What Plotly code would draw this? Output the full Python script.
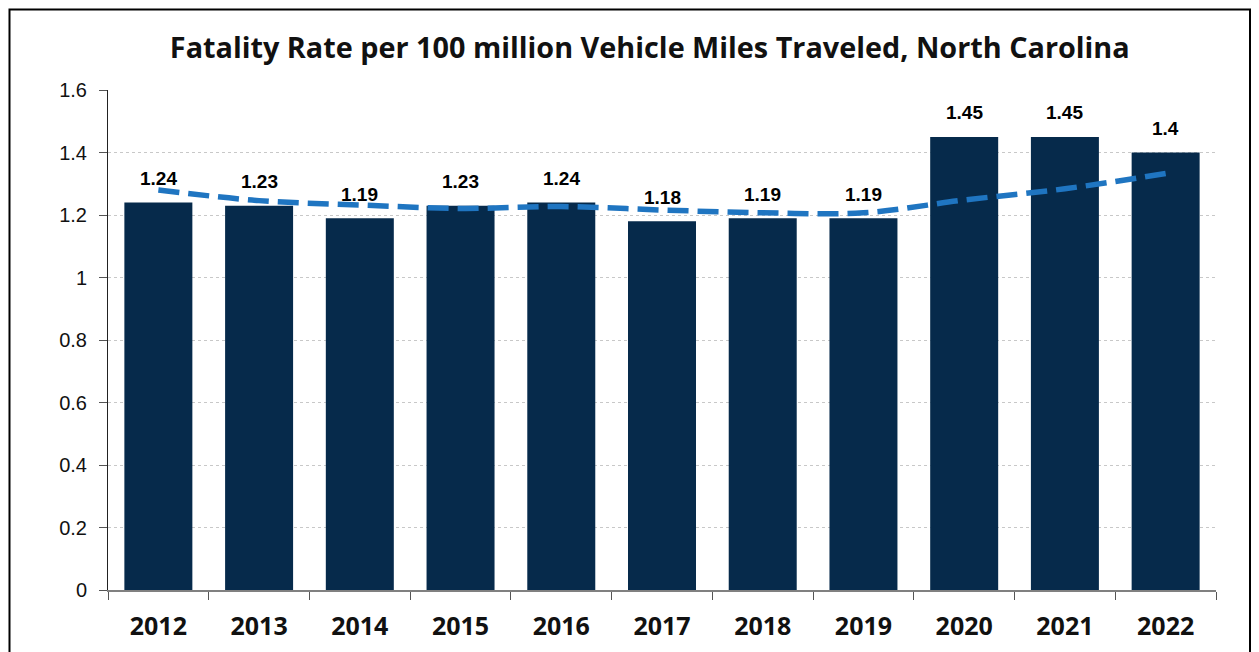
import plotly.graph_objects as go

years = ["2012", "2013", "2014", "2015", "2016", "2017", "2018", "2019", "2020", "2021", "2022"]
rates = [1.24, 1.23, 1.19, 1.23, 1.24, 1.18, 1.19, 1.19, 1.45, 1.45, 1.4]
# trend line
trend = [1.28, 1.246, 1.232, 1.221, 1.227, 1.216, 1.207, 1.207, 1.248, 1.284, 1.333]
y_ticks = [0, 0.2, 0.4, 0.6, 0.8, 1, 1.2, 1.4, 1.6]

fig = go.Figure()

fig.add_trace(go.Bar(x=years, y=rates,
                     marker=dict(color="#062A4B", line=dict(width=0)),
                     name="Rate"))

fig.add_trace(go.Scatter(x=years, y=trend, mode="lines",
                         line=dict(color="#1F75C1", width=5.5, dash="21px,9px", shape="spline"),
                         name="Trend"))

# value labels above the bars (x given as category index, "2012" would be read as index 2012)
for i, v in enumerate(rates):
    fig.add_annotation(x=i, y=v, text="<b>%s</b>" % v, showarrow=False,
                       yanchor="middle", yshift=24,
                       font=dict(family="Liberation Sans", size=19, color="black"))

# page body adds 8px margin, so the figure is a bit smaller
fig.update_layout(
    width=1251, height=644,
    margin=dict(l=100, r=43, t=82, b=62),
    plot_bgcolor="white", paper_bgcolor="white",
    showlegend=False,
    bargap=0.325,
    title=dict(text="<b>Fatality Rate per 100 million Vehicle Miles Traveled, North Carolina</b>",
               x=0.513, xanchor="center", y=0.938, yanchor="middle",
               font=dict(family="Open Sans", size=28.8, color="#111111")),
)

fig.update_xaxes(type="category", range=[-0.5, 10.5],
                 showline=True, linecolor="#808080", linewidth=1.5,
                 ticks="outside", tickson="boundaries", ticklen=8, tickcolor="#555555",
                 tickfont=dict(family="Open Sans", size=25, color="#111111", weight="bold"),
                 tickangle=0, ticklabelstandoff=13, automargin=False,
                 showgrid=False)
fig.update_yaxes(range=[0, 1.6], tickvals=y_ticks,
                 ticktext=[str(t) for t in y_ticks],
                 showline=True, linecolor="#222222", linewidth=1,
                 ticks="outside", ticklen=8, tickcolor="#555555",
                 tickfont=dict(family="Liberation Sans", size=20, color="#111111"),
                 ticklabelstandoff=8, automargin=False,
                 showgrid=True, gridcolor="#C8C8C8", griddash="dot", gridwidth=1,
                 zeroline=False)

# outer frame of the chart
fig.add_shape(type="rect", xref="paper", yref="paper",
              x0=-0.0889, x1=1.0307, y0=-0.3, y1=1.161,
              line=dict(color="black", width=2), layer="above")

fig.write_html("out.html")
